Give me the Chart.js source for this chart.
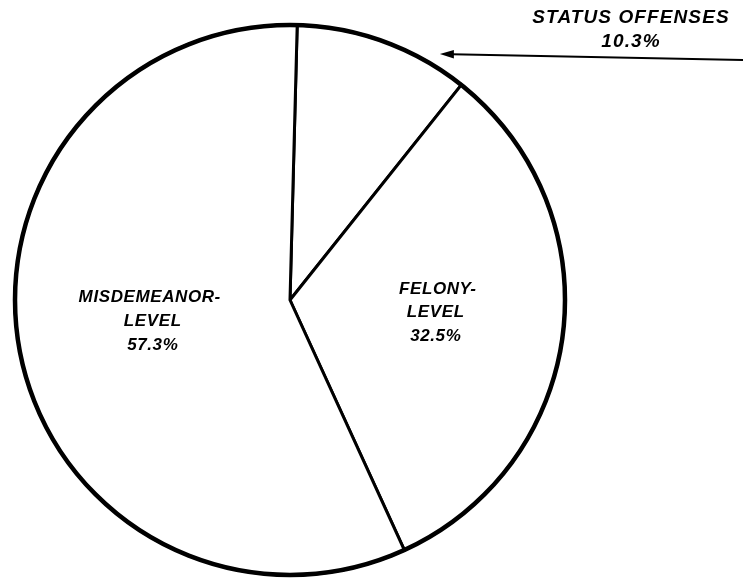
<!DOCTYPE html>
<html>
<head>
<meta charset="utf-8">
<script src="https://cdn.jsdelivr.net/npm/chart.js@4/dist/chart.umd.min.js"></script>
<style>
  html, body { margin: 0; padding: 0; background: #ffffff; }
  #wrap { width: 743px; height: 579px; }
</style>
</head>
<body>
<div id="wrap"><canvas id="c" width="743" height="579"></canvas></div>
<script>
const categories = ["STATUS OFFENSES", "FELONY-LEVEL", "MISDEMEANOR-LEVEL"];
const percentValues = [10.3, 32.5, 57.3];
const valueLabels = ["10.3%", "32.5%", "57.3%"];

const FONT = 'italic bold 17px "Liberation Sans", Arial, Helvetica, sans-serif';
const FONT_BIG = 'italic bold 19px "Liberation Sans", Arial, Helvetica, sans-serif';

const pieDecor = {
  id: 'pieDecor',
  afterDatasetsDraw(chart) {
    const ctx = chart.ctx;
    const arc = chart.getDatasetMeta(0).data[0];
    const cx = arc.x, cy = arc.y, r = arc.outerRadius;
    ctx.save();
    // thick outer ring
    ctx.beginPath();
    ctx.arc(cx, cy, r, 0, Math.PI * 2);
    ctx.lineWidth = 4.5;
    ctx.strokeStyle = '#000';
    ctx.stroke();

    ctx.fillStyle = '#000';
    ctx.textAlign = 'center';
    ctx.textBaseline = 'middle';
    ctx.font = FONT;
    try { ctx.letterSpacing = '0.6px'; } catch (e) {}
    // Misdemeanor label
    const mx = cx - 0.51 * r, my = cy - 0.01 * r;
    ctx.fillText('MISDEMEANOR-', mx, my);
    ctx.fillText('LEVEL', mx + 3, my + 24);
    ctx.fillText(valueLabels[2], mx + 3, my + 48);
    // Felony label
    const fx = cx + 0.53 * r, fy = cy - 0.04 * r;
    ctx.fillText('FELONY-', fx + 2, fy);
    ctx.fillText('LEVEL', fx, fy + 23);
    ctx.fillText(valueLabels[1], fx, fy + 47);

    // Status offenses callout
    ctx.font = FONT_BIG;
    try { ctx.letterSpacing = '1.1px'; } catch (e) {}
    const sx = cx + 1.24 * r;
    ctx.fillText('STATUS OFFENSES', sx, 18);
    ctx.fillText(valueLabels[0], sx, 42);

    // arrow
    const x0 = 743, y0 = 60, x1 = cx + 0.545 * r, y1 = 54;
    ctx.beginPath();
    ctx.moveTo(x0, y0);
    ctx.lineTo(x1 + 12, y1 + 0.25);
    ctx.lineWidth = 2;
    ctx.stroke();
    ctx.beginPath();
    ctx.moveTo(x1, y1);
    ctx.lineTo(x1 + 14, y1 - 4);
    ctx.lineTo(x1 + 14, y1 + 4.5);
    ctx.closePath();
    ctx.fill();
    ctx.restore();
  }
};

new Chart(document.getElementById('c'), {
  type: 'pie',
  data: {
    labels: categories,
    datasets: [{
      data: percentValues,
      backgroundColor: '#ffffff',
      borderColor: '#000000',
      borderWidth: 3,
      borderJoinStyle: 'miter',
      hoverOffset: 0
    }]
  },
  options: {
    responsive: false,
    animation: false,
    events: [],
    rotation: 1.5,
    radius: 275,
    layout: { padding: { left: 0, right: 163, top: 21, bottom: 0 } },
    plugins: {
      legend: { display: false },
      tooltip: { enabled: false },
      title: { display: false }
    }
  },
  plugins: [pieDecor]
});
</script>
</body>
</html>
